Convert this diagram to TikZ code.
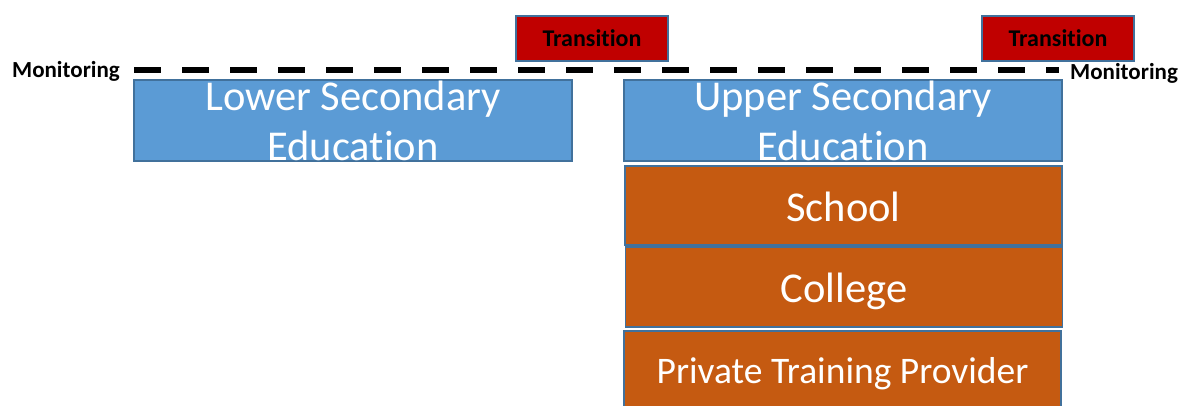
\documentclass[tikz,border=0pt]{standalone}
\usepackage{fontspec}
\setmainfont{Carlito}[Ligatures=NoCommon]
\definecolor{boxblue}{HTML}{5B9BD5}
\definecolor{edgeblue}{HTML}{41719C}
\definecolor{boxorange}{HTML}{C55A11}
\definecolor{boxred}{HTML}{C00000}
\begin{document}
\begin{tikzpicture}[x=1pt,y=-1pt,
		stagebox/.style={draw=edgeblue, line width=1.6pt, fill=boxblue, text=white,
			align=center, inner sep=0pt, minimum width=438pt, minimum height=81pt,
			font=\fontsize{42.5}{50}\selectfont},
		routebox/.style={draw=edgeblue, line width=1.6pt, fill=boxorange, text=white,
			inner sep=0pt, minimum width=437pt, minimum height=80pt,
			text height=32pt, text depth=0pt,
			font=\fontsize{42.5}{48}\selectfont},
		transbox/.style={draw=edgeblue, line width=1.4pt, fill=boxred, text=black,
			inner sep=0pt, minimum width=152pt, minimum height=45pt,
			font=\bfseries\fontsize{24}{28}\selectfont},
		montext/.style={inner sep=0pt, font=\bfseries\fontsize{23}{27}\selectfont}]

			\useasboundingbox (0,0) rectangle (1181,406);

			% Stufen der Sekundarbildung
			\node[stagebox] (lower) at (353,120.5) {Lower Secondary\\Education};
			\node[stagebox] (upper) at (843,120.5) {Upper Secondary\\Education};

			% Lernorte der Oberstufe
			\node[routebox, minimum height=79pt] (school) at (843.5,205.5) {School};
			\node[routebox, text height=30pt] (college) at (844,287) {College};
			\node[routebox, minimum height=78pt, text height=27pt,
				font=\fontsize{37.5}{44}\selectfont] (provider) at (842.5,370) {Private Training Provider};

			% Übergänge
			\node[transbox] (transA) at (592,38.5) {Transition};
			\node[transbox] (transB) at (1058,38.5) {Transition};

			% Monitoring-Linie
			\node[montext, anchor=base east] (monA) at (120,78) {Monitoring};
			\node[montext, anchor=base west] (monB) at (1070,80) {Monitoring};
			\coordinate (lineA) at (134,70);
			\coordinate (lineB) at (1059,70);
			\draw[line width=6.5pt, dash pattern=on 27pt off 21pt] (lineA) -- (lineB);

		\end{tikzpicture}
\end{document}
